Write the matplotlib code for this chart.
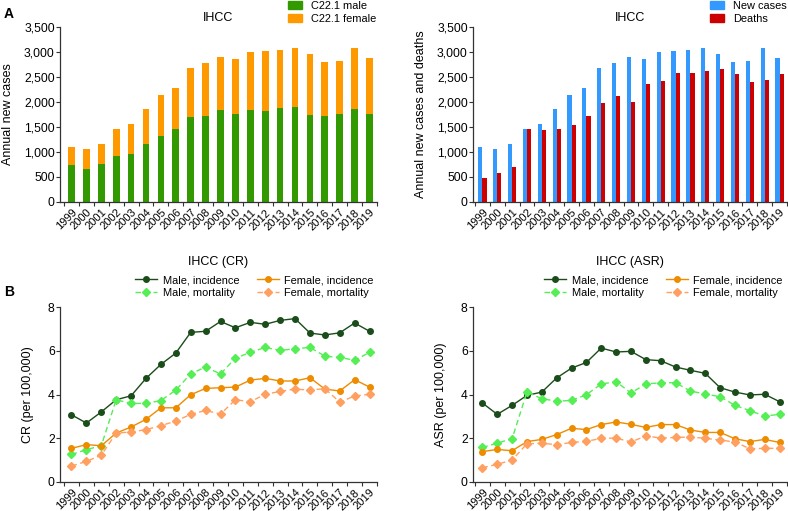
import matplotlib
matplotlib.use("Agg")
import matplotlib.pyplot as plt
import numpy as np
from matplotlib.patches import Patch

plt.rcParams['font.family'] = ['Liberation Sans', 'DejaVu Sans']

years = [str(y) for y in range(1999, 2020)]

total_cases = [1100, 1050, 1153, 1447, 1553, 1847, 2133, 2267, 2667, 2773, 2893,
               2847, 2993, 3020, 3033, 3067, 2953, 2800, 2813, 3067, 2880]
male_cases = [733, 647, 760, 907, 960, 1160, 1313, 1453, 1687, 1713, 1833,
              1760, 1833, 1813, 1873, 1893, 1733, 1713, 1753, 1853, 1760]
female_cases = [t - m for t, m in zip(total_cases, male_cases)]
deaths = [467, 580, 700, 1453, 1433, 1453, 1533, 1707, 1973, 2107, 1993,
          2353, 2407, 2567, 2567, 2620, 2647, 2553, 2400, 2433, 2553]

cr_male_inc = [3.07, 2.69, 3.20, 3.76, 3.94, 4.74, 5.38, 5.90, 6.85, 6.90, 7.35,
               7.06, 7.31, 7.22, 7.40, 7.48, 6.82, 6.73, 6.83, 7.28, 6.90]
cr_male_mort = [1.25, 1.47, 1.65, 3.76, 3.59, 3.59, 3.72, 4.20, 4.95, 5.26, 4.94,
                5.67, 5.93, 6.16, 6.02, 6.10, 6.16, 5.76, 5.70, 5.57, 5.93]
cr_female_inc = [1.53, 1.70, 1.65, 2.23, 2.51, 2.86, 3.39, 3.39, 3.99, 4.28, 4.31,
                 4.34, 4.66, 4.74, 4.62, 4.62, 4.77, 4.25, 4.16, 4.68, 4.34]
cr_female_mort = [0.72, 0.93, 1.22, 2.23, 2.28, 2.39, 2.57, 2.78, 3.09, 3.27, 3.10,
                  3.76, 3.67, 4.01, 4.14, 4.25, 4.20, 4.27, 3.65, 3.93, 4.01]

asr_male_inc = [3.61, 3.09, 3.50, 3.96, 4.11, 4.76, 5.21, 5.47, 6.13, 5.95, 5.98,
                5.60, 5.55, 5.26, 5.11, 4.97, 4.31, 4.11, 3.98, 4.01, 3.67]
asr_male_mort = [1.57, 1.77, 1.97, 4.11, 3.81, 3.69, 3.73, 3.99, 4.48, 4.59, 4.07,
                 4.48, 4.54, 4.54, 4.16, 4.02, 3.90, 3.50, 3.26, 3.01, 3.09]
asr_female_inc = [1.38, 1.48, 1.42, 1.84, 1.94, 2.16, 2.45, 2.39, 2.62, 2.74, 2.63,
                  2.49, 2.62, 2.62, 2.37, 2.26, 2.26, 1.97, 1.84, 1.94, 1.80]
asr_female_mort = [0.64, 0.80, 0.99, 1.74, 1.76, 1.70, 1.80, 1.85, 1.99, 2.00, 1.82,
                   2.10, 2.00, 2.03, 2.05, 1.99, 1.91, 1.82, 1.51, 1.53, 1.53]

C_GREEN = '#339900'
C_ORANGE = '#FF9900'
C_BLUE = '#3399FF'
C_RED = '#CC0000'
C_MI = '#1A4D1A'
C_MM = '#55EE55'
C_FI = '#EE8C00'
C_FM = '#FFA060'

W, H = 788, 511
fig = plt.figure(figsize=(W / 100, H / 100), dpi=100)


def ax_at(x0, x1, ytop, ybot):
    return fig.add_axes([x0 / W, 1 - ybot / H, (x1 - x0) / W, (ybot - ytop) / H])


x = np.arange(len(years))


def style(ax, xlo):
    for s in ['top', 'right']:
        ax.spines[s].set_visible(False)
    for s in ['left', 'bottom']:
        ax.spines[s].set_linewidth(0.9)
        ax.spines[s].set_color('#333333')
    ax.set_xlim(xlo, 20.5)
    ax.set_xticks(x)
    ax.set_xticklabels(years, rotation=45, ha='right', rotation_mode='anchor', fontsize=8)
    ax.tick_params(axis='x', which='major', length=0, pad=4)
    ax.set_xticks(np.arange(-0.5, 21, 1), minor=True)
    ax.tick_params(axis='x', which='minor', length=3, width=0.8, color='#333333')
    ax.tick_params(axis='y', labelsize=8.7, length=2.6, width=0.8, color='#333333', pad=1.2)


leg_patch_kw = dict(frameon=False, fontsize=7.9, handlelength=1.3, handleheight=0.75,
                    handletextpad=0.8, labelspacing=0.3, borderpad=0.1, borderaxespad=0)

# Panel A left: stacked
axA1 = ax_at(60, 377, 26.7, 201.7)
axA1.bar(x, male_cases, width=0.45, color=C_GREEN)
axA1.bar(x, female_cases, bottom=male_cases, width=0.45, color=C_ORANGE)
style(axA1, -0.77)
axA1.set_ylim(0, 3500)
axA1.set_yticks(np.arange(0, 3501, 500))
axA1.set_yticklabels([f'{v:,}' for v in range(0, 3501, 500)])
axA1.set_ylabel('Annual new cases', fontsize=9, labelpad=7)
axA1.set_title('IHCC', fontsize=9, pad=4)
axA1.legend(handles=[Patch(color=C_GREEN, label='C22.1 male'),
                     Patch(color=C_ORANGE, label='C22.1 female')],
            loc='upper left', bbox_to_anchor=(287 / W, 1 + 0.5 / H), bbox_transform=fig.transFigure,
            **leg_patch_kw)

# Panel A right: grouped
axA2 = ax_at(473, 787, 26.7, 201.7)
bw = 0.28
axA2.bar(x - bw / 2, total_cases, width=bw, color=C_BLUE)
axA2.bar(x + bw / 2, deaths, width=bw, color=C_RED)
style(axA2, -0.63)
axA2.set_ylim(0, 3500)
axA2.set_yticks(np.arange(0, 3501, 500))
axA2.set_yticklabels([f'{v:,}' for v in range(0, 3501, 500)])
axA2.set_ylabel('Annual new cases and deaths', fontsize=9, labelpad=7)
axA2.set_title('IHCC', fontsize=9, pad=4)
axA2.legend(handles=[Patch(color=C_BLUE, label='New cases'),
                     Patch(color=C_RED, label='Deaths')],
            loc='upper left', bbox_to_anchor=(709 / W, 1 + 0.5 / H), bbox_transform=fig.transFigure,
            **leg_patch_kw)


def line_panel(ax, mi, mm, fi, fm, ylabel, xlo, leg_x):
    ax.plot(x, mi, color=C_MI, marker='o', ms=4, lw=1.0, ls='-', label='Male, incidence')
    ax.plot(x, mm, color=C_MM, marker='D', ms=3.6, lw=1.0, ls=(0, (4, 2.5)), label='Male, mortality')
    ax.plot(x, fi, color=C_FI, marker='o', ms=4, lw=1.0, ls='-', label='Female, incidence')
    ax.plot(x, fm, color=C_FM, marker='D', ms=3.6, lw=1.0, ls=(0, (4, 2.5)), label='Female, mortality')
    style(ax, xlo)
    ax.set_ylim(0, 8)
    ax.set_yticks([0, 2, 4, 6, 8])
    ax.set_ylabel(ylabel, fontsize=9, labelpad=10)
    ax.legend(ncol=2, loc='lower left', bbox_to_anchor=(leg_x / W, 1 - 299 / H),
              bbox_transform=fig.transFigure,
              frameon=False, fontsize=7.9, handlelength=2.0, handletextpad=0.5,
              columnspacing=1.6, labelspacing=0.25, borderpad=0.1, borderaxespad=0)
    return ax


axB1 = ax_at(60, 377, 307.3, 481.7)
line_panel(axB1, cr_male_inc, cr_male_mort, cr_female_inc, cr_female_mort,
           'CR (per 100,000)', -0.77, 134)
fig.text(218.5 / W, 1 - 262 / H, 'IHCC (CR)', fontsize=9, ha='center', va='center')

axB2 = ax_at(473, 787, 307.3, 481.7)
line_panel(axB2, asr_male_inc, asr_male_mort, asr_female_inc, asr_female_mort,
           'ASR (per 100,000)', -0.63, 543)
fig.text(630 / W, 1 - 262 / H, 'IHCC (ASR)', fontsize=9, ha='center', va='center')

fig.text(4 / W, 1 - 14 / H, 'A', fontsize=10, fontweight='bold', ha='left', va='center')
fig.text(4 / W, 1 - 292 / H, 'B', fontsize=10, fontweight='bold', ha='left', va='center')

fig.savefig('out.png', dpi=100)
